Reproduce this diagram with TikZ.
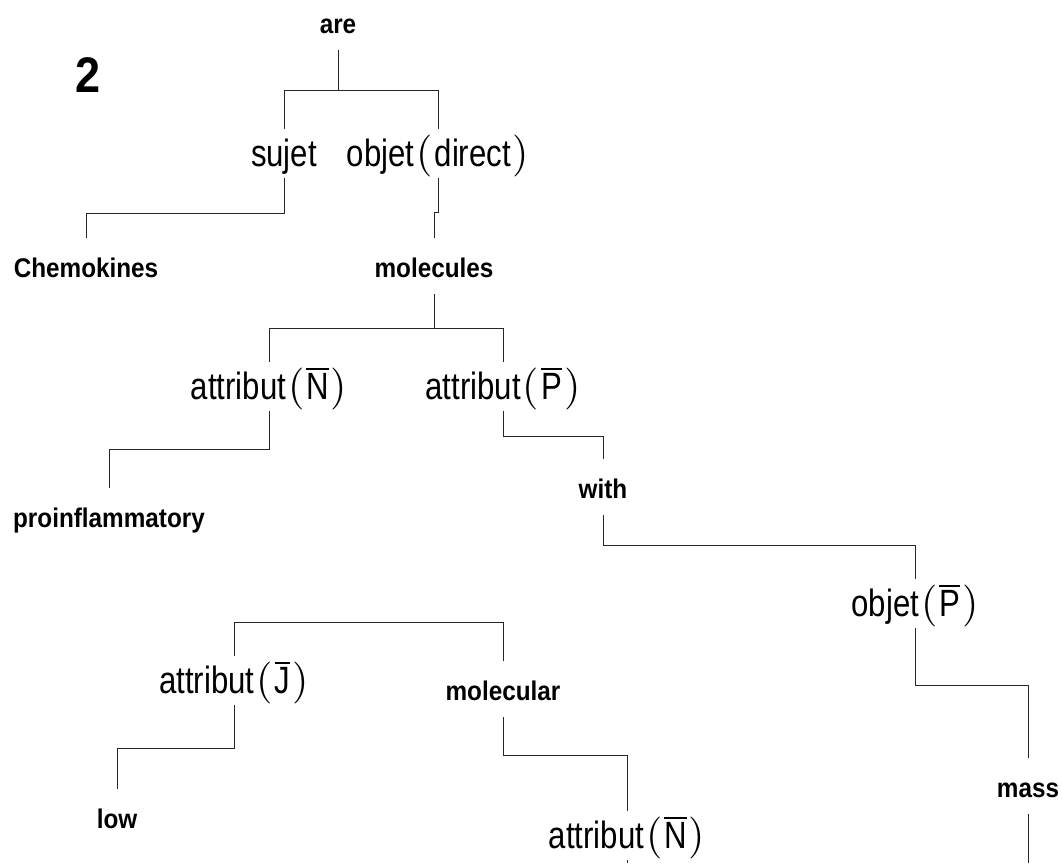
\documentclass[tikz,border=0pt]{standalone}
\usepackage{fontspec}
\setmainfont{Liberation Sans}
\newfontfamily\narrowsans[FakeStretch=0.82]{Liberation Sans}
\newfontfamily\wordfont[FakeStretch=0.9]{Liberation Sans Bold}
\newfontfamily\parenfont{lmroman10-regular}[Extension=.otf]
\newcommand{\barred}[1]{\vbox{\hrule height 2.5pt\kern 2.5pt\hbox{#1}}}
\newcommand{\opar}{{\parenfont\fontsize{42}{42}\selectfont(}}
\newcommand{\cpar}{{\parenfont\fontsize{42}{42}\selectfont)}}
\tikzset{%
    word/.style={font=\wordfont\fontsize{27}{30}\selectfont,
        inner sep=0pt, anchor=base, text height=39pt, text depth=17pt},
    role/.style={font=\narrowsans\fontsize{38}{42}\selectfont,
        inner sep=0pt, anchor=base, text height=37pt, text depth=12pt},
    link/.style={line width=0.8pt, black!85}
}

\begin{document}
\begin{tikzpicture}[x=1pt,y=-1pt]
    \useasboundingbox (0,0) rectangle (1062,863);
    \node[font=\wordfont\fontsize{50}{54}\selectfont,anchor=base] (num) at (88,92) {2};
    % words and roles
    \node[word] (are) at (338,33) {are};
    \node[role] (sujet) at (284,166) {sujet};
    \node[role] (objdir) at (438,166) {objet\kern2pt\opar\kern2pt direct\kern2pt\cpar};
    \node[word] (chemo) at (86,277) {Chemokines};
    \node[word] (molecules) at (434,277) {molecules};
    \node[role] (attrN) at (269,399) {attribut\kern2pt\opar\kern2pt\barred{N}\kern2pt\cpar};
    \node[role] (attrP) at (503,399) {attribut\kern2pt\opar\kern2pt\barred{P}\kern2pt\cpar};
    \node[word] (proinfl) at (109,527) {proinflammatory};
    \node[word] (with) at (603,498) {with};
    \node[role] (objP) at (915,616) {objet\kern2pt\opar\kern2pt\barred{P}\kern2pt\cpar};
    \node[word] (mass) at (1028,797) {mass};
    \node[role] (attrJ) at (234,693) {attribut\kern2pt\opar\kern2pt\barred{J}\kern2pt\cpar};
    \node[word] (molecular) at (503,700) {molecular};
    \node[word] (low) at (117,828) {low};
    \node[role] (attrNb) at (627,848) {attribut\kern2pt\opar\kern2pt\barred{N}\kern2pt\cpar};
    \coordinate (massend) at (1028,863);
    \coordinate (attrNbend) at (627,863);
    % branches
    \draw[link] (are.south) -- ++(0,40) coordinate (arefork);
    \draw[link] (sujet.north) |- (arefork) -| (objdir.north);
    \draw[link] (sujet.south) -- ++(0,35) -| (chemo.north);
    \draw[link] (objdir.south) -- ++(0,34) -| (molecules.north);
    \draw[link] (molecules.south) -- ++(0,34) coordinate (molfork);
    \draw[link] (attrN.north) |- (molfork) -| (attrP.north);
    \draw[link] (attrN.south) -- ++(0,38) -| (proinfl.north);
    \draw[link] (attrP.south) -- ++(0,25) -| (with.north);
    \draw[link] (with.south) -- ++(0,30) -| (objP.north);
    \draw[link] (objP.south) -- ++(0,57) -| (mass.north);
    \draw[link] (mass.south) -- (massend);
    \draw[link] (attrJ.north) -- ++(0,-33) -| (molecular.north);
    \draw[link] (attrJ.south) -- ++(0,43) -| (low.north);
    \draw[link] (molecular.south) -- ++(0,38) -| (attrNb.north);
    \draw[link] (attrNb.south) -- (attrNbend);
\end{tikzpicture}
\end{document}
